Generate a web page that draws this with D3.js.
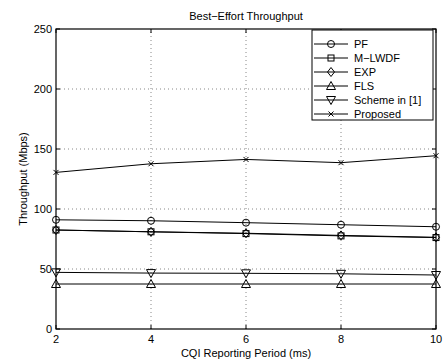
<!DOCTYPE html>
<html>
<head>
<meta charset="utf-8">
<script src="https://cdn.jsdelivr.net/npm/d3@7"></script>
<style>
  body { margin: 0; background: #fff; }
  svg text { font-family: "Liberation Sans", Arial, sans-serif; }
</style>
</head>
<body>
<svg id="chart" width="446" height="359"></svg>
<script>
const periods = [2, 4, 6, 8, 10];
const pf = [91, 90.2, 88.6, 86.9, 85.2];
const mlwdf = [82.5, 81, 79.5, 77.6, 76.2];
const exp = [82.5, 81, 79.8, 78, 76.4];
const fls = [37.5, 37.5, 37.5, 37.5, 37.5];
const scheme1 = [47.2, 46.6, 46.4, 46, 45];
const proposed = [130.5, 137.7, 141.3, 138.6, 144.4];
const xTicks = [2, 4, 6, 8, 10];
const yTicks = [0, 50, 100, 150, 200, 250];

const series = [
  {name: "PF", values: pf, marker: "circle"},
  {name: "M\u2212LWDF", values: mlwdf, marker: "square"},
  {name: "EXP", values: exp, marker: "diamond"},
  {name: "FLS", values: fls, marker: "triUp"},
  {name: "Scheme in [1]", values: scheme1, marker: "triDown"},
  {name: "Proposed", values: proposed, marker: "x"}
];

const svg = d3.select("#chart");
const margin = {left: 56, right: 10, top: 29, bottom: 30};
const W = 446, H = 359;
const x = d3.scaleLinear().domain([2, 10]).range([margin.left, W - margin.right]);
const y = d3.scaleLinear().domain([0, 250]).range([H - margin.bottom, margin.top]);

// grid
const grid = svg.append("g").attr("stroke", "#888").attr("stroke-dasharray", "1,3").attr("stroke-width", 1);
xTicks.slice(1, -1).forEach(t => {
  grid.append("line").attr("x1", x(t)).attr("x2", x(t)).attr("y1", y(0)).attr("y2", y(250));
});
yTicks.slice(1, -1).forEach(t => {
  grid.append("line").attr("x1", x(2)).attr("x2", x(10)).attr("y1", y(t)).attr("y2", y(t));
});

// box and inward ticks
svg.append("rect").attr("x", x(2)).attr("y", y(250))
  .attr("width", x(10) - x(2)).attr("height", y(0) - y(250))
  .attr("fill", "none").attr("stroke", "#000").attr("stroke-width", 1.2);

const tk = svg.append("g").attr("stroke", "#000");
xTicks.forEach(t => {
  tk.append("line").attr("x1", x(t)).attr("x2", x(t)).attr("y1", y(0)).attr("y2", y(0) - 4);
  tk.append("line").attr("x1", x(t)).attr("x2", x(t)).attr("y1", y(250)).attr("y2", y(250) + 4);
});
yTicks.forEach(t => {
  tk.append("line").attr("x1", x(2)).attr("x2", x(2) + 4).attr("y1", y(t)).attr("y2", y(t));
  tk.append("line").attr("x1", x(10)).attr("x2", x(10) - 4).attr("y1", y(t)).attr("y2", y(t));
});

svg.append("g").selectAll("text").data(xTicks).enter().append("text")
  .attr("x", d => x(d)).attr("y", y(0) + 14)
  .attr("text-anchor", "middle").attr("font-size", 11).text(d => d);
svg.append("g").selectAll("text").data(yTicks).enter().append("text")
  .attr("x", x(2) - 4).attr("y", d => y(d) + 4)
  .attr("text-anchor", "end").attr("font-size", 11).text(d => d);

svg.append("text").attr("x", (x(2) + x(10)) / 2).attr("y", 357)
  .attr("text-anchor", "middle").attr("font-size", 11).text("CQI Reporting Period (ms)");
svg.append("text").attr("transform", `translate(27,${(y(0) + y(250)) / 2}) rotate(-90)`)
  .attr("text-anchor", "middle").attr("font-size", 11).text("Throughput (Mbps)");
svg.append("text").attr("x", (x(2) + x(10)) / 2).attr("y", 20)
  .attr("text-anchor", "middle").attr("font-size", 11).text("Best\u2212Effort Throughput");

function drawMarker(g, type, cx, cy) {
  const s = 3.5;
  const common = sel => sel.attr("fill", "none").attr("stroke", "#000").attr("stroke-width", 1);
  if (type === "circle") common(g.append("circle").attr("cx", cx).attr("cy", cy).attr("r", s));
  else if (type === "square") common(g.append("rect").attr("x", cx - 3).attr("y", cy - 3).attr("width", 6).attr("height", 6));
  else if (type === "diamond") common(g.append("path").attr("d", `M${cx},${cy - 4.5}L${cx + 3.5},${cy}L${cx},${cy + 4.5}L${cx - 3.5},${cy}Z`));
  else if (type === "triUp") common(g.append("path").attr("d", `M${cx},${cy - 4.5}L${cx + 4.5},${cy + 3.5}L${cx - 4.5},${cy + 3.5}Z`));
  else if (type === "triDown") common(g.append("path").attr("d", `M${cx},${cy + 4.5}L${cx + 4.5},${cy - 3.5}L${cx - 4.5},${cy - 3.5}Z`));
  else if (type === "x") common(g.append("path").attr("d", `M${cx - 2.5},${cy - 2.5}L${cx + 2.5},${cy + 2.5}M${cx - 2.5},${cy + 2.5}L${cx + 2.5},${cy - 2.5}`));
}

const line = d3.line().x((d, i) => x(periods[i])).y(d => y(d));
series.forEach(s => {
  const g = svg.append("g");
  g.append("path").attr("d", line(s.values)).attr("fill", "none").attr("stroke", "#000").attr("stroke-width", 1);
  s.values.forEach((v, i) => drawMarker(g, s.marker, x(periods[i]), y(v)));
});

// legend
const lg = svg.append("g");
lg.append("rect").attr("x", 312).attr("y", 30).attr("width", 121).attr("height", 90)
  .attr("fill", "#fff").attr("stroke", "#000").attr("stroke-width", 1);
series.forEach((s, i) => {
  const ly = 44 + i * 14;
  lg.append("line").attr("x1", 314).attr("x2", 348).attr("y1", ly).attr("y2", ly).attr("stroke", "#000");
  drawMarker(lg, s.marker, 331, ly);
  lg.append("text").attr("x", 354).attr("y", ly + 4).attr("font-size", 11).text(s.name);
});
</script>
</body>
</html>
